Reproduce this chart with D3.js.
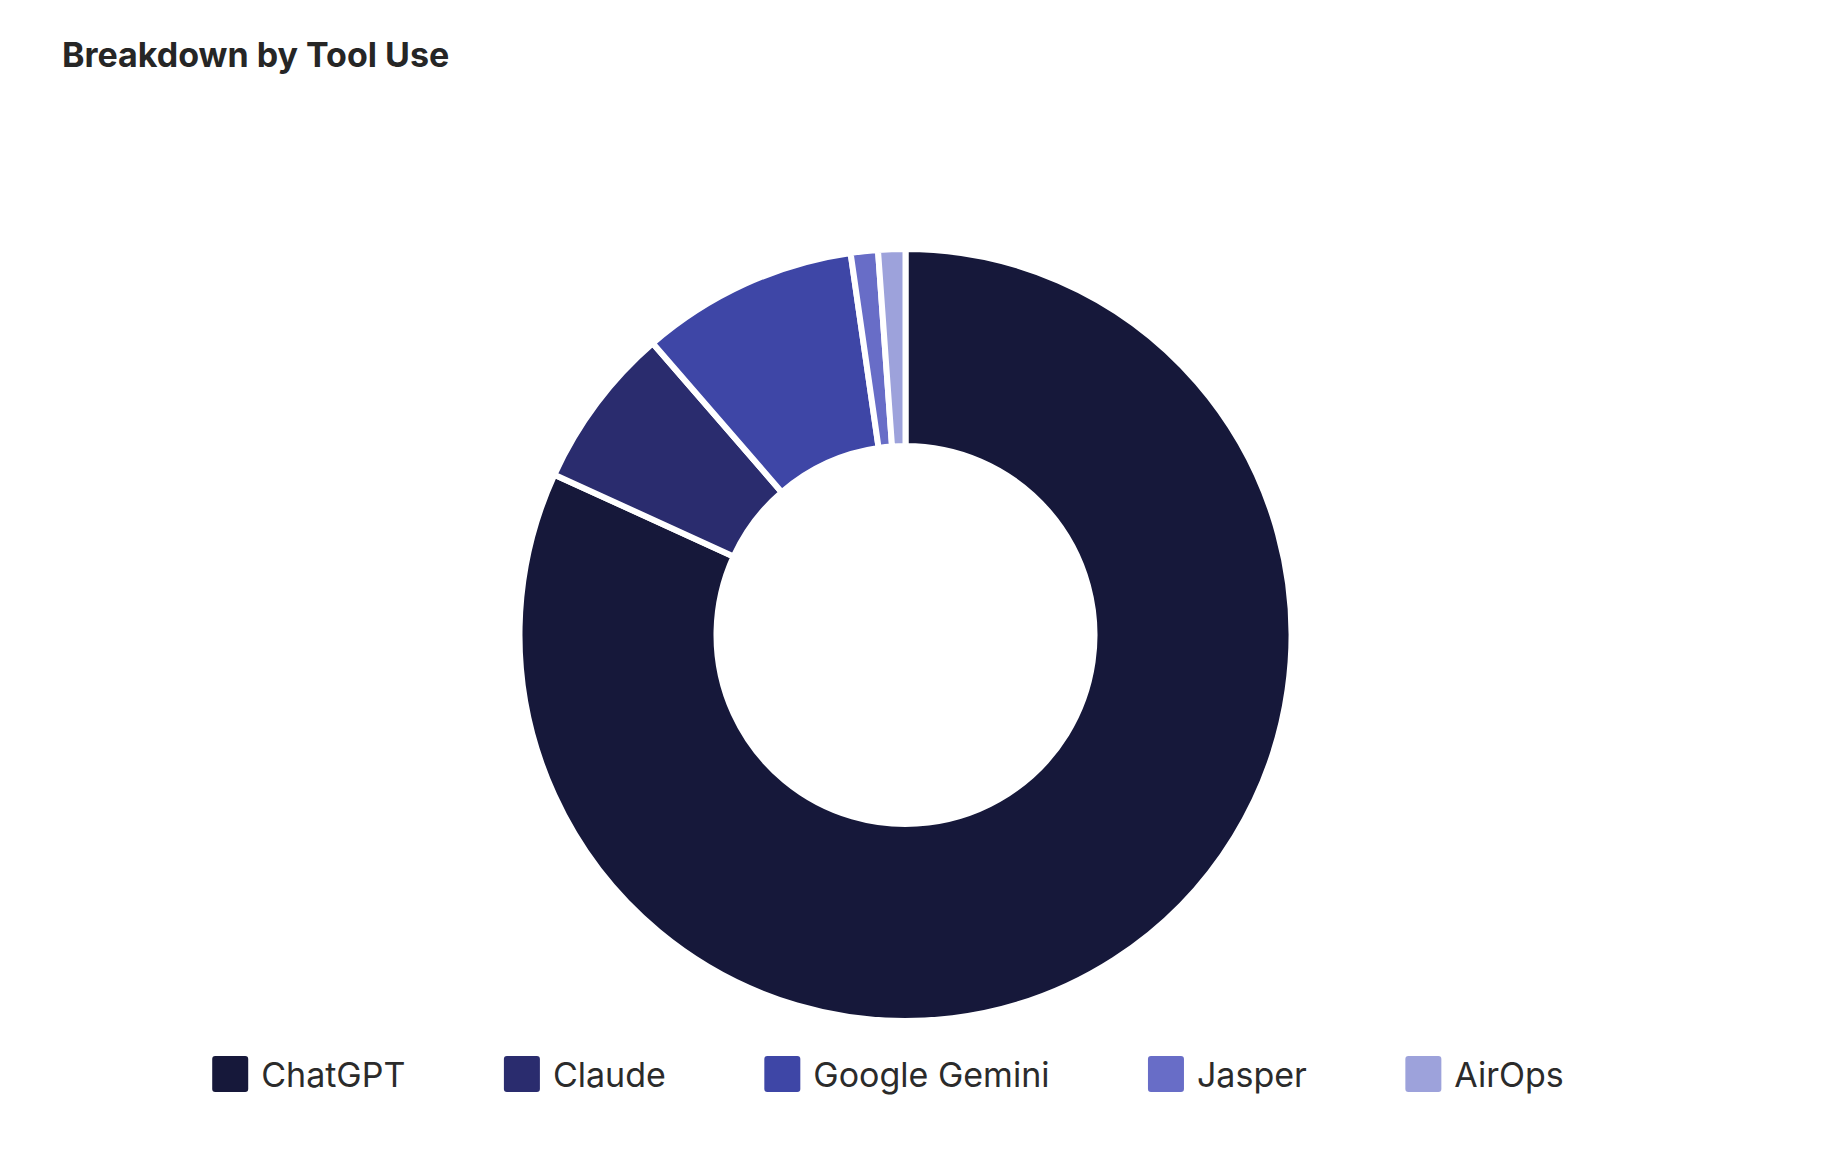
<!DOCTYPE html>
<html>
<head>
<meta charset="utf-8">
<script src="https://cdn.jsdelivr.net/npm/d3@7"></script>
<style>
  body { margin: 0; background: #fff; }
  svg { display: block; }
</style>
</head>
<body>
<svg id="chart"></svg>
<script>
// data
var tools = ['ChatGPT', 'Claude', 'Google Gemini', 'Jasper', 'AirOps']
var counts = [72, 6, 8, 1, 1]
var colors = ['#16183a', '#2a2c6e', '#3e46a6', '#686dc7', '#9da2db']

function main() {
    var width = 1828, height = 1168
    var cx = 905.5, cy = 635, outerR = 386, innerR = 189

    var svg = d3.select('#chart').attr('width', width).attr('height', height)

    // title
    svg.append('text')
        .attr('x', 62)
        .attr('y', 67)
        .attr('font-family', 'Inter, sans-serif')
        .attr('font-weight', 700)
        .attr('font-size', 34)
        .attr('fill', '#262626')
        .text('Breakdown by Tool Use')

    var color = d3.scaleOrdinal().domain(tools).range(colors)

    var pie = d3.pie().sort(null).value(function(d, i) { return counts[i] })
    var arc = d3.arc().innerRadius(innerR).outerRadius(outerR)

    var g = svg.append('g').attr('transform', `translate(${cx}, ${cy})`)
    g.selectAll('path')
        .data(pie(tools))
        .enter().append('path')
        .attr('d', arc)
        .attr('fill', function(d) { return color(d.data) })
        .attr('stroke', '#fff')
        .attr('stroke-width', 6)
        .attr('stroke-linejoin', 'miter')

    // legend, laid out from measured text widths
    var legend = svg.append('g')
    var items = legend.selectAll('g')
        .data(tools)
        .enter().append('g')
    items.append('rect')
        .attr('width', 36).attr('height', 36)
        .attr('y', 1056)
        .attr('rx', 3)
        .attr('fill', function(d) { return color(d) })
    items.append('text')
        .attr('x', 49)
        .attr('y', 1087)
        .attr('font-family', 'Inter, sans-serif')
        .attr('font-size', 34)
        .attr('fill', '#2b2b2b')
        .text(function(d) { return d })

    var gap = 98.5
    var x = 0, offsets = []
    items.each(function() {
        offsets.push(x)
        x += 49 + d3.select(this).select('text').node().getComputedTextLength() + gap
    })
    var total = x - gap
    var start = 888 - total / 2
    items.attr('transform', function(d, i) { return `translate(${start + offsets[i]}, 0)` })
}
main()
</script>
</body>
</html>
